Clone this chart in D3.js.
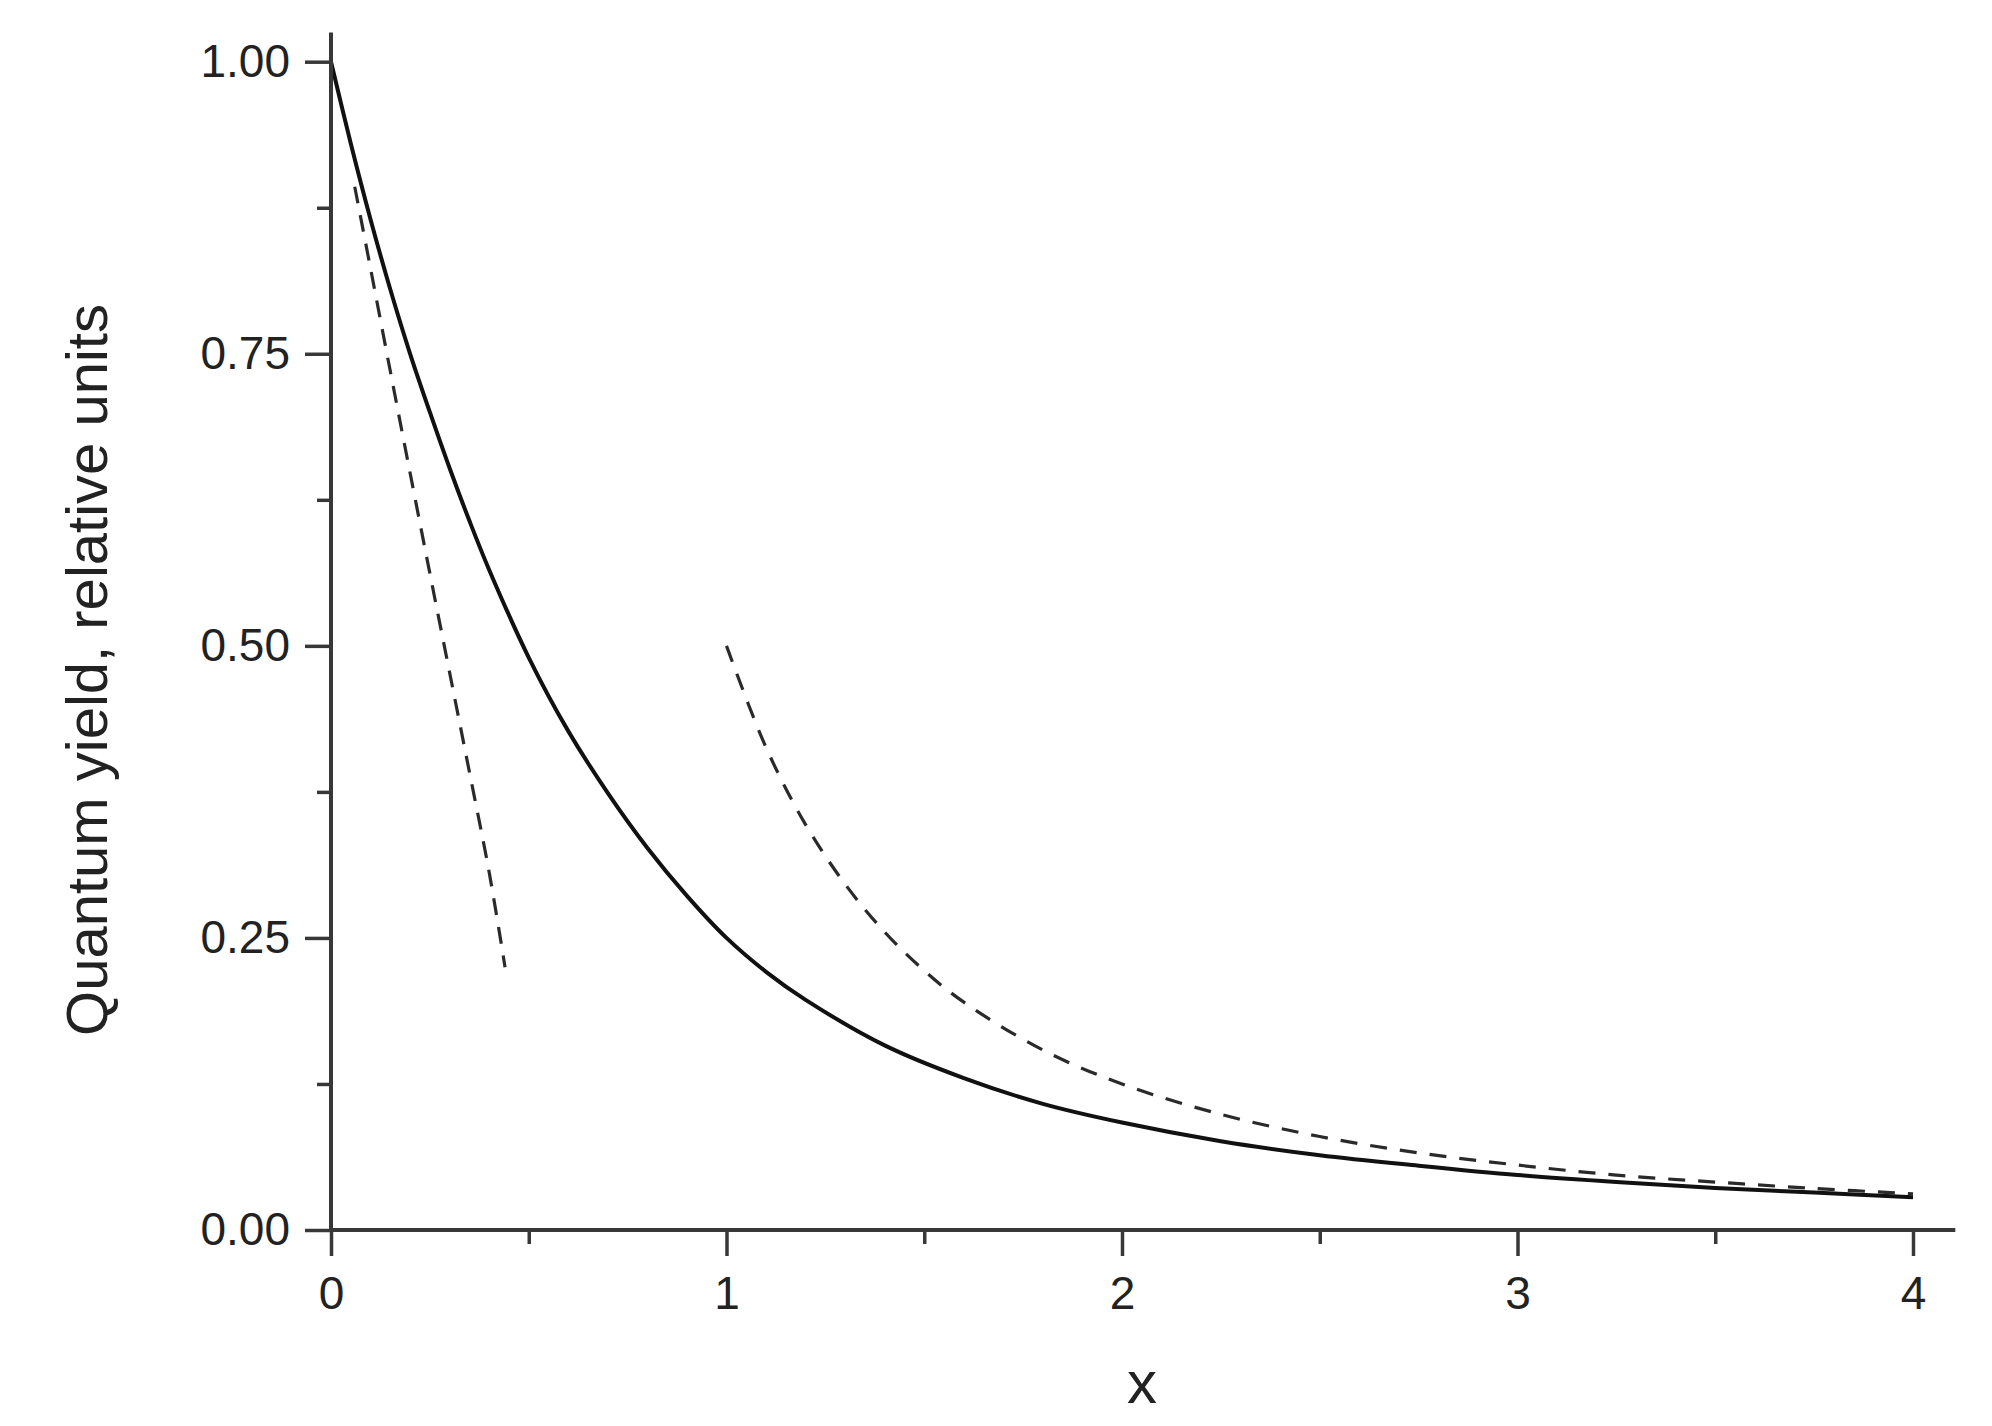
<!DOCTYPE html>
<html>
<head>
<meta charset="utf-8">
<script src="https://cdn.jsdelivr.net/npm/d3@7"></script>
<style>
  html, body { margin: 0; padding: 0; background: #ffffff; }
  svg { display: block; }
  text { font-family: "Liberation Sans", Arial, sans-serif; fill: #222; }
</style>
</head>
<body>
<svg id="chart" width="1992" height="1426"></svg>
<script>
// ---- data ----
const solidX = [0, 0.05, 0.1, 0.15, 0.2, 0.25, 0.3, 0.35, 0.4, 0.5, 0.6, 0.7, 0.8, 0.9, 1.0,
                1.1, 1.2, 1.4, 1.6, 1.8, 2.0, 2.25, 2.5, 2.75, 3.0, 3.25, 3.5, 3.75, 4.0];
const solidY = [1.00, 0.93, 0.865, 0.805, 0.75, 0.70, 0.652, 0.607, 0.565, 0.49, 0.427, 0.374, 0.327, 0.286, 0.25,
                0.221, 0.197, 0.158, 0.130, 0.108, 0.092, 0.076, 0.064, 0.055, 0.047, 0.041, 0.036, 0.032, 0.028];

const dashLeftX = [0.06, 0.1, 0.15, 0.2, 0.25, 0.3, 0.35, 0.4, 0.44];
const dashLeftY = [0.893, 0.823, 0.735, 0.648, 0.562, 0.477, 0.392, 0.306, 0.225];

const dashRightX = [1.0, 1.1, 1.2, 1.3, 1.4, 1.5, 1.6, 1.8, 2.0, 2.25, 2.5, 2.75, 3.0, 3.25, 3.5, 3.75, 4.0];
const dashRightY = [0.50, 0.413, 0.347, 0.296, 0.255, 0.222, 0.195, 0.154, 0.125, 0.099, 0.080, 0.066, 0.0556, 0.047, 0.041, 0.0356, 0.031];

const xMajorTicks = [0, 1, 2, 3, 4];
const xMinorTicks = [0.5, 1.5, 2.5, 3.5];
const yMajorTicks = [0, 0.25, 0.5, 0.75, 1.0];
const yMinorTicks = [0.125, 0.375, 0.625, 0.875];
const xAxisEnd = 4.107;
const yAxisEnd = 1.025;

const xTitle = "x";
const yTitle = "Quantum yield, relative units";

// ---- layout ----
const svg = d3.select("#chart");
const x = d3.scaleLinear().domain([0, 4]).range([331, 1913]);
const y = d3.scaleLinear().domain([0, 1]).range([1230, 61.7]);
const axisColor = "#383838";

const zip = (xs, ys) => xs.map((v, i) => [v, ys[i]]);
const line = d3.line().x(d => x(d[0])).y(d => y(d[1])).curve(d3.curveCatmullRom.alpha(0.5));

// curves
svg.append("path")
  .attr("d", line(zip(dashLeftX, dashLeftY)))
  .attr("fill", "none").attr("stroke", "#2a2a2a").attr("stroke-width", 3.2)
  .attr("stroke-dasharray", "17 12");
svg.append("path")
  .attr("d", line(zip(dashRightX, dashRightY)))
  .attr("fill", "none").attr("stroke", "#2a2a2a").attr("stroke-width", 3.2)
  .attr("stroke-dasharray", "17 13");
svg.append("path")
  .attr("d", line(zip(solidX, solidY)))
  .attr("fill", "none").attr("stroke", "#111").attr("stroke-width", 4);

// axes
const xAxis = d3.axisBottom(x).tickValues(xMajorTicks).tickFormat(d3.format("d"))
  .tickSize(26).tickSizeOuter(0).tickPadding(20);
const gx = svg.append("g").attr("transform", `translate(0,${y(0)})`).call(xAxis);
gx.select(".domain").remove();
gx.selectAll(".tick line").attr("stroke", axisColor).attr("stroke-width", 3.5);
gx.selectAll(".tick text").attr("font-size", 46).attr("fill", "#222")
  .attr("font-family", "Liberation Sans, Arial, sans-serif");

const xMinor = d3.axisBottom(x).tickValues(xMinorTicks).tickFormat("").tickSize(14).tickSizeOuter(0);
const gxm = svg.append("g").attr("transform", `translate(0,${y(0)})`).call(xMinor);
gxm.select(".domain").remove();
gxm.selectAll(".tick line").attr("stroke", axisColor).attr("stroke-width", 3.5);

const yAxis = d3.axisLeft(y).tickValues(yMajorTicks).tickFormat(d3.format(".2f"))
  .tickSize(26).tickSizeOuter(0).tickPadding(15);
const gy = svg.append("g").attr("transform", `translate(${x(0)},0)`).call(yAxis);
gy.select(".domain").remove();
gy.selectAll(".tick line").attr("stroke", axisColor).attr("stroke-width", 3.5);
gy.selectAll(".tick text").attr("font-size", 46).attr("fill", "#222")
  .attr("font-family", "Liberation Sans, Arial, sans-serif");

const yMinor = d3.axisLeft(y).tickValues(yMinorTicks).tickFormat("").tickSize(14).tickSizeOuter(0);
const gym = svg.append("g").attr("transform", `translate(${x(0)},0)`).call(yMinor);
gym.select(".domain").remove();
gym.selectAll(".tick line").attr("stroke", axisColor).attr("stroke-width", 3.5);

// axis lines
svg.append("line")
  .attr("x1", x(0)).attr("x2", x(xAxisEnd)).attr("y1", y(0)).attr("y2", y(0))
  .attr("stroke", axisColor).attr("stroke-width", 4);
svg.append("line")
  .attr("x1", x(0)).attr("x2", x(0)).attr("y1", y(0)).attr("y2", y(yAxisEnd))
  .attr("stroke", axisColor).attr("stroke-width", 4);

// titles
svg.append("text")
  .attr("x", 1142).attr("y", 1403)
  .attr("text-anchor", "middle").attr("font-size", 60)
  .text(xTitle);
svg.append("text")
  .attr("transform", "translate(107,670) rotate(-90)")
  .attr("text-anchor", "middle").attr("font-size", 58)
  .text(yTitle);
</script>
</body>
</html>
